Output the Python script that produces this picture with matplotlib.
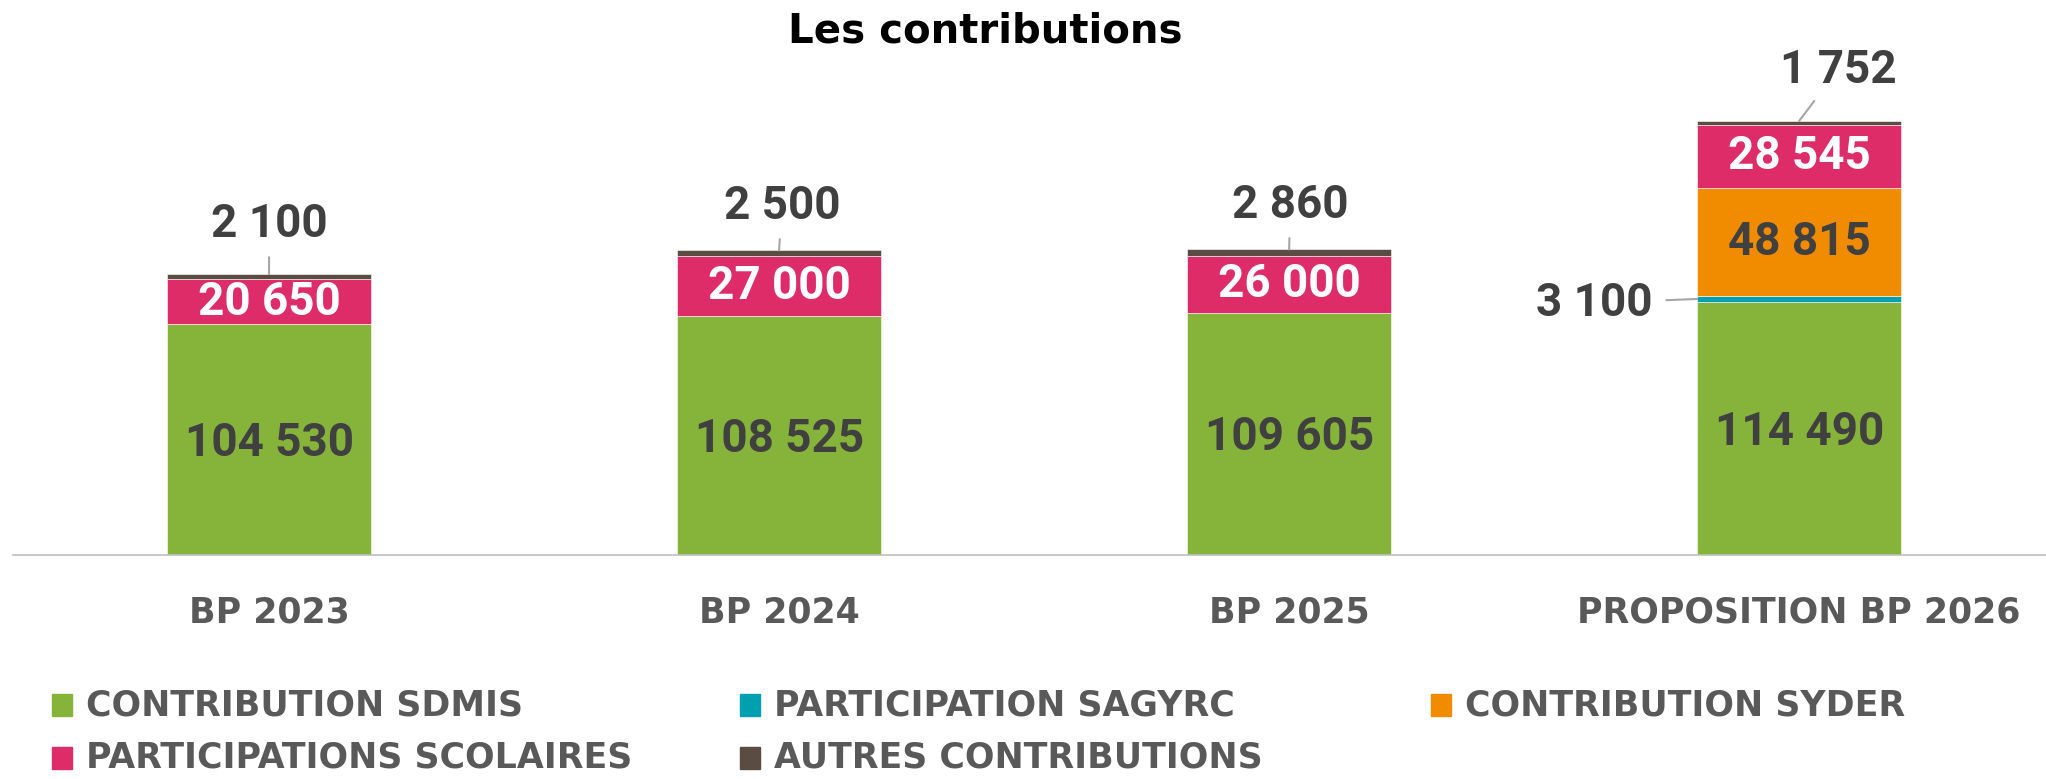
import matplotlib.pyplot as plt
from matplotlib.patches import Rectangle

# data
categories = ['BP 2023', 'BP 2024', 'BP 2025', 'PROPOSITION BP 2026']
sdmis = [104530, 108525, 109605, 114490]
sagyrc = [0, 0, 0, 3100]
syder = [0, 0, 0, 48815]
scolaires = [20650, 27000, 26000, 28545]
autres = [2100, 2500, 2860, 1752]

series_names = ['CONTRIBUTION SDMIS', 'PARTICIPATION SAGYRC', 'CONTRIBUTION SYDER',
                'PARTICIPATIONS SCOLAIRES', 'AUTRES CONTRIBUTIONS']
colors = ['#86B43B', '#00A0B0', '#F18C00', '#DE2C68', '#5A4C42']

def fmt(v):
    return f"{v:,}".replace(",", " ")

fig = plt.figure(figsize=(20.46, 7.79), dpi=100)
ax = fig.add_axes([13 / 2046, 0.2875, 1 - 13 / 2046, 0.7125])

x = list(range(len(categories)))
w = 0.40
bottom = [0] * len(x)
for vals, col in zip([sdmis, sagyrc, syder, scolaires, autres], colors):
    ax.bar(x, vals, w, bottom=bottom, color=col, edgecolor='white', linewidth=0.4)
    bottom = [a + v for a, v in zip(bottom, vals)]

ax.set_xlim(-0.502, 3.484)
ax.set_ylim(0, 251500)

# labels inside segments
lab_font = dict(family='Roboto', fontweight='bold', fontsize=33)
for i in x:
    ax.text(i, sdmis[i] / 2 - 1500, fmt(sdmis[i]), ha='center', va='center', color='#404040', **lab_font)
    if syder[i]:
        y0 = sdmis[i] + sagyrc[i]
        ax.text(i, y0 + syder[i] / 2, fmt(syder[i]), ha='center', va='center', color='#404040', **lab_font)
    y0 = sdmis[i] + sagyrc[i] + syder[i]
    ax.text(i, y0 + scolaires[i] / 2, fmt(scolaires[i]), ha='center', va='center', color='white', **lab_font)

# labels for the small segments, with leader lines
offsets = [(0, 36), (2, 32), (1, 32), (28, 37)]
for i in x:
    ax.annotate(fmt(autres[i]), xy=(i, bottom[i]), xytext=offsets[i], textcoords='offset points',
                ha='center', va='center', color='#404040', **lab_font,
                arrowprops=dict(arrowstyle='-', color='#A6A6A6', lw=1.5, shrinkA=6, shrinkB=0))
for i in x:
    if sagyrc[i]:
        ax.annotate(fmt(sagyrc[i]), xy=(i - w / 2, sdmis[i] + sagyrc[i] / 2), xytext=(-74, -3),
                    textcoords='offset points', ha='center', va='center', color='#404040', **lab_font,
                    arrowprops=dict(arrowstyle='-', color='#A6A6A6', lw=1.5, shrinkA=8, shrinkB=0))

for s in ['top', 'right', 'left']:
    ax.spines[s].set_visible(False)
ax.spines['bottom'].set_color('#BFBFBF')
ax.spines['bottom'].set_linewidth(1.2)
ax.set_yticks([])
ax.set_xticks(x)
ax.set_xticklabels(categories, fontsize=25, fontweight='bold', color='#595959')
ax.tick_params(axis='x', length=0, pad=29)

fig.text(0.4815, 0.96, 'Les contributions', ha='center', va='center', fontsize=29,
         fontweight='bold', color='black')

# legend, laid out like the original (3 columns, 2 rows)
col_x = [52, 740, 1431]
row_y = [705, 758]
for k, name in enumerate(series_names):
    r, c = divmod(k, 3)
    px, py = col_x[c], row_y[r]
    fig.patches.append(Rectangle((px / 2046, 1 - (py + 11) / 779), 20 / 2046, 22 / 779,
                                 transform=fig.transFigure, color=colors[k]))
    fig.text((px + 34) / 2046, 1 - py / 779, name, ha='left', va='center',
             fontsize=25, fontweight='bold', color='#595959')

plt.savefig('out.png', dpi=100)
